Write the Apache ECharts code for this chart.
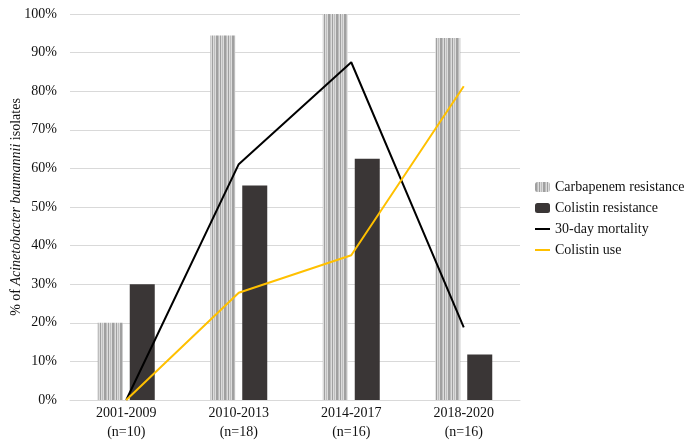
<!DOCTYPE html>
<html><head><meta charset="utf-8">
<script src="https://cdn.jsdelivr.net/npm/echarts@6/dist/echarts.min.js"></script>
<style>html,body{margin:0;padding:0;background:#fff}#c{width:685px;height:447px}</style>
</head><body><div id="c"></div>
<script>
var categories = ['2001-2009\n(n=10)', '2010-2013\n(n=18)', '2014-2017\n(n=16)', '2018-2020\n(n=16)'];
var carbapenemResistance = [20, 94.4, 100, 93.8];
var colistinResistance = [30, 55.6, 62.5, 11.8];
var mortality30 = [0, 61.1, 87.5, 18.8];
var colistinUse = [0, 27.8, 37.5, 81.3];
var yTicks = [0, 10, 20, 30, 40, 50, 60, 70, 80, 90, 100];

var pc = document.createElement('canvas');
pc.width = 8; pc.height = 6;
var g = pc.getContext('2d');
g.fillStyle = '#dcdcdc'; g.fillRect(0, 0, 8, 6);
g.fillStyle = '#a0a0a0'; g.fillRect(0, 0, 2, 6); g.fillRect(4, 0, 1, 6);
g.fillStyle = '#bebebe'; g.fillRect(2, 0, 1, 6); g.fillRect(6, 0, 1, 6);
var pattern = {image: pc, repeat: 'repeat'};

var font = '"Liberation Serif", "Times New Roman", serif';
var txt = '#111';
var legendText = {fontFamily: font, fontSize: 14, color: txt};
var chart = echarts.init(document.getElementById('c'));
chart.setOption({
  animation: false,
  textStyle: {fontFamily: font, color: txt},
  grid: {left: 70, right: 165, top: 14, bottom: 47, outerBoundsMode: 'none', containLabel: false},
  legend: [
    {orient: 'vertical', left: 530, top: 175, itemGap: 7, itemWidth: 15, itemHeight: 10,
      textStyle: legendText, data: ['Carbapenem resistance', 'Colistin resistance']},
    {orient: 'vertical', left: 530, top: 217, itemGap: 7, itemWidth: 15, itemHeight: 2, icon: 'rect',
      textStyle: legendText, data: ['30-day mortality', 'Colistin use']}
  ],
  xAxis: {
    type: 'category', data: categories,
    axisLine: {lineStyle: {color: '#d9d9d9', width: 1}},
    axisTick: {show: false},
    axisLabel: {fontFamily: font, fontSize: 14, color: txt, margin: 4, lineHeight: 19}
  },
  yAxis: {
    type: 'value', min: yTicks[0], max: yTicks[yTicks.length - 1], interval: 10,
    axisLabel: {formatter: '{value}%', fontFamily: font, fontSize: 14, color: txt, margin: 13},
    splitLine: {lineStyle: {color: '#d9d9d9', width: 1}},
    axisLine: {show: false}, axisTick: {show: false},
    name: '% of {i|Acinetobacter baumannii} isolates',
    nameLocation: 'middle', nameRotate: 90, nameGap: 47, nameMoveOverlap: false,
    nameTextStyle: {fontFamily: font, fontSize: 14, color: txt,
      rich: {i: {fontFamily: font, fontSize: 14, fontStyle: 'italic', color: txt}}}
  },
  series: [
    {name: 'Carbapenem resistance', type: 'bar', data: carbapenemResistance, barWidth: 25, barGap: '28%',
      itemStyle: {color: pattern}},
    {name: 'Colistin resistance', type: 'bar', data: colistinResistance, barWidth: 25,
      itemStyle: {color: '#3a3636'}},
    {name: '30-day mortality', type: 'line', data: mortality30, symbol: 'none',
      lineStyle: {color: '#000', width: 2}, itemStyle: {color: '#000'}},
    {name: 'Colistin use', type: 'line', data: colistinUse, symbol: 'none',
      lineStyle: {color: '#ffc000', width: 2}, itemStyle: {color: '#ffc000'}}
  ]
});
</script></body></html>
